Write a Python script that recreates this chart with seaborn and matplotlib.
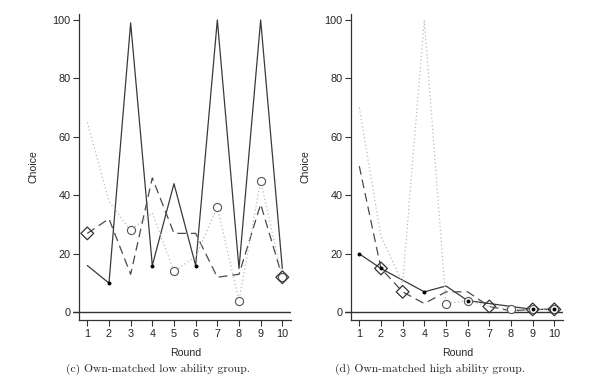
import matplotlib
matplotlib.use("Agg")
import matplotlib.pyplot as plt
import seaborn as sns
import pandas as pd

rounds = [1, 2, 3, 4, 5, 6, 7, 8, 9, 10]

low_solid = [16, 10, 99, 16, 44, 16, 100, 15, 100, 15]
low_dashed = [27, 32, 13, 46, 27, 27, 12, 13, 37, 12]
low_dotted = [65, 38, 28, 34, 14, 19, 36, 4, 45, 12]
low_dot_rounds = [2, 4, 6]
low_diamond_rounds = [1, 10]
low_circle_rounds = [3, 5, 7, 8, 9, 10]

high_solid = [20, 15, 11, 7, 9, 4, 3, 2, 1, 1]
high_dashed = [50, 15, 7, 3, 7, 7, 2, 0.5, 1, 1]
high_dotted = [70, 26, 10, 100, 3, 4, 2, 1, 1, 1]
high_dot_rounds = [1, 2, 4, 6, 9, 10]
high_diamond_rounds = [2, 3, 7, 9, 10]
high_circle_rounds = [5, 6, 8, 9, 10]

yticks = [0, 20, 40, 60, 80, 100]
captions = ["(c) Own-matched low ability group.", "(d) Own-matched high ability group."]

sns.set_style("white")
plt.rcParams["font.family"] = ["Liberation Sans", "DejaVu Sans"]

palette = {"A": "#3a3a3a", "B": "#4a4a4a", "C": "#bababa"}
dashes = {"A": "", "B": (7, 4), "C": (1, 2)}

fig = plt.figure(figsize=(6, 3.8), dpi=100)

panels = [
    (low_solid, low_dashed, low_dotted, low_dot_rounds, low_diamond_rounds, low_circle_rounds, 73),
    (high_solid, high_dashed, high_dotted, high_dot_rounds, high_diamond_rounds, high_circle_rounds, 345),
]

for i, (s, d, t, dots, dias, circs, left_px) in enumerate(panels):
    ax = fig.add_axes([left_px / 600, 56 / 380, 218 / 600, 315.7 / 380])
    df = pd.DataFrame({
        "Round": rounds * 3,
        "Choice": s + d + t,
        "player": ["A"] * 10 + ["B"] * 10 + ["C"] * 10,
    })
    sns.lineplot(data=df, x="Round", y="Choice", hue="player", style="player",
                 palette=palette, dashes=dashes, linewidth=0.9, legend=False, ax=ax,
                 estimator=None, sort=False)
    ax.axhline(0, color="#333333", lw=1.0, zorder=1)
    circ_df = pd.DataFrame({"Round": circs, "Choice": [t[r - 1] for r in circs]})
    dia_df = pd.DataFrame({"Round": dias, "Choice": [d[r - 1] for r in dias]})
    dot_df = pd.DataFrame({"Round": dots, "Choice": [s[r - 1] for r in dots]})
    sns.scatterplot(data=circ_df, x="Round", y="Choice", marker="o", s=34,
                    facecolor="white", edgecolor="#555555", linewidth=0.8, ax=ax, zorder=4)
    sns.scatterplot(data=dia_df, x="Round", y="Choice", marker="D", s=42,
                    facecolor="none", edgecolor="#333333", linewidth=0.9, ax=ax, zorder=5)
    sns.scatterplot(data=dot_df, x="Round", y="Choice", marker="o", s=8,
                    color="black", edgecolor="black", linewidth=0, ax=ax, zorder=6)

    ax.set_xlim(0.34, 10.40)
    ax.set_ylim(-4, 104)
    ax.set_xticks(rounds)
    ax.set_yticks(yticks)
    ax.set_yticklabels([str(v) for v in yticks], rotation=90, va="center")
    for sp in ["top", "right"]:
        ax.spines[sp].set_visible(False)
    ax.spines["left"].set_position(("data", 0.63))
    ax.spines["left"].set_bounds(-2.6, 102)
    ax.spines["bottom"].set_position(("data", -2.6))
    ax.spines["bottom"].set_bounds(0.63, 10.40)
    for sp in ["left", "bottom"]:
        ax.spines[sp].set_color("#333333")
        ax.spines[sp].set_linewidth(0.9)
    ax.tick_params(axis="both", direction="out", length=4.3, width=0.8,
                   color="#333333", labelsize=7.8, pad=2, left=True, bottom=True)
    ax.set_xlabel("Round", fontsize=7.6)
    ax.set_ylabel("Choice", fontsize=7.6)
    ax.xaxis.set_label_coords(0.516, -0.075)
    ax.yaxis.set_label_coords(-0.16, 0.5)

fig.text(157.5 / 600, 1 - 369 / 380, captions[0], family=["cmr10", "DejaVu Serif"],
         fontsize=8.4, ha="center", va="center")
fig.text(430 / 600, 1 - 369 / 380, captions[1], family=["cmr10", "DejaVu Serif"],
         fontsize=8.4, ha="center", va="center")

fig.savefig("out.png", dpi=100)
